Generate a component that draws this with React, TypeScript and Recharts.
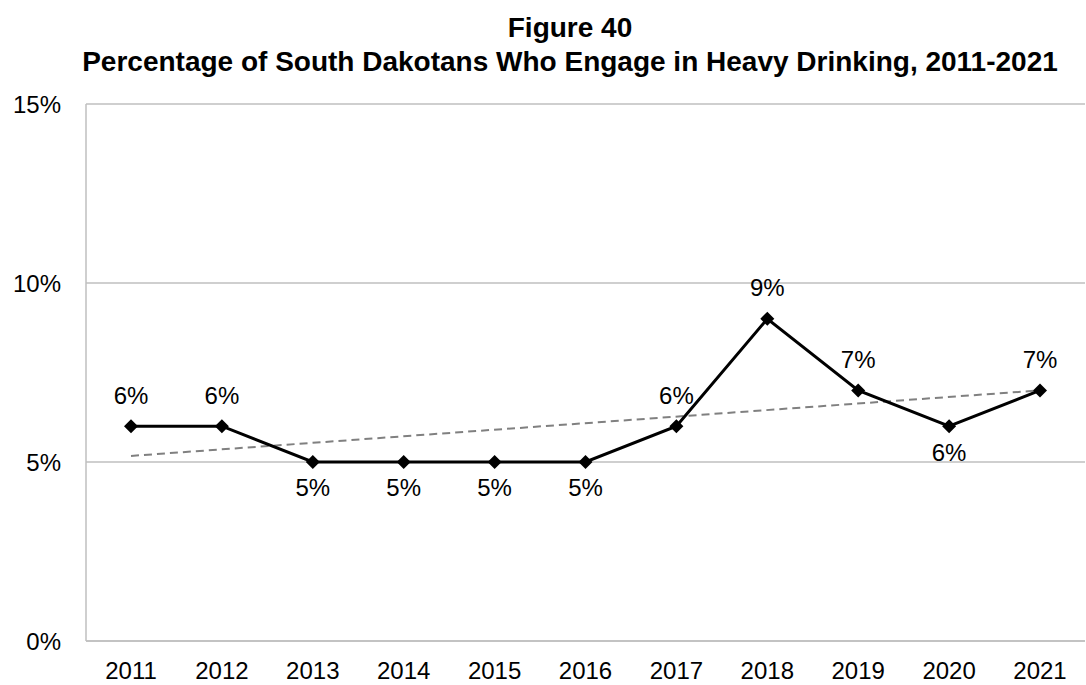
import { CartesianGrid, LabelList, Line, LineChart, XAxis, YAxis } from 'recharts';

const years = ['2011', '2012', '2013', '2014', '2015', '2016', '2017', '2018', '2019', '2020', '2021'];
const heavyDrinking = [6, 6, 5, 5, 5, 5, 6, 9, 7, 6, 7];
// linear trend: only the two ends are drawn, the line joins them
const trend = [5.17, null, null, null, null, null, null, null, null, null, 7.0];
const yTicks = [0, 5, 10, 15];
const labelsBelow = ['2013', '2014', '2015', '2016', '2020'];

const data = years.map((year, i) => ({ year, value: heavyDrinking[i], trend: trend[i] }));

const FONT = '"Liberation Sans", Arial, sans-serif';
const GRID = '#bfbfbf';

function Diamond(props: any) {
  const { cx, cy } = props;
  if (cx == null || cy == null) return null;
  const r = 7;
  return <polygon points={`${cx},${cy - r} ${cx + r},${cy} ${cx},${cy + r} ${cx - r},${cy}`} fill="#000" />;
}

function PointLabel(props: any) {
  const { x, y, value, index } = props;
  const below = labelsBelow.includes(years[index]);
  return (
    <text
      x={x}
      y={below ? y + 26 : y - 31}
      dy="0.35em"
      textAnchor="middle"
      fontSize={24}
      fontFamily={FONT}
      fill="#000"
    >
      {`${value}%`}
    </text>
  );
}

export default function App() {
  return (
    <div style={{ position: 'absolute', left: 0, top: 0, width: 1086, height: 685, background: '#fff' }}>
      <svg width={1086} height={90} style={{ position: 'absolute', left: 0, top: 0 }}>
        <text x={570} y={37} textAnchor="middle" fontSize={28} fontWeight="bold" fontFamily={FONT}>
          Figure 40
        </text>
        <text x={570} y={71} textAnchor="middle" fontSize={28} fontWeight="bold" fontFamily={FONT}>
          Percentage of South Dakotans Who Engage in Heavy Drinking, 2011-2021
        </text>
      </svg>
      <LineChart width={1086} height={685} data={data} margin={{ top: 104, right: 1, bottom: 0, left: 0 }}>
        <CartesianGrid vertical={false} stroke={GRID} strokeWidth={1.5} />
        <XAxis
          dataKey="year"
          height={44}
          padding={{ left: 45, right: 45 }}
          tickLine={false}
          tickSize={0}
          tickMargin={21}
          axisLine={{ stroke: GRID, strokeWidth: 1.5 }}
          tick={{ fill: '#000', fontSize: 24, fontFamily: FONT }}
        />
        <YAxis
          width={86}
          domain={[0, 15]}
          ticks={yTicks}
          tickFormatter={(v) => `${v}%`}
          tickLine={false}
          tickSize={0}
          tickMargin={25}
          axisLine={{ stroke: GRID, strokeWidth: 1.5 }}
          tick={{ fill: '#000', fontSize: 24, fontFamily: FONT }}
        />
        <Line
          dataKey="trend"
          stroke="#808080"
          strokeWidth={2}
          strokeDasharray="8 5"
          dot={false}
          connectNulls
          isAnimationActive={false}
        />
        <Line
          dataKey="value"
          stroke="#000"
          strokeWidth={3}
          dot={<Diamond />}
          isAnimationActive={false}
        >
          <LabelList dataKey="value" content={<PointLabel />} />
        </Line>
      </LineChart>
    </div>
  );
}
